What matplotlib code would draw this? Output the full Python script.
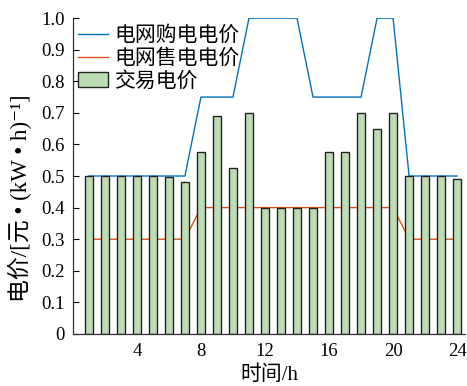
import matplotlib
matplotlib.use("Agg")
import matplotlib.pyplot as plt
import numpy as np

plt.rcParams['font.family'] = ['Liberation Serif', 'Noto Sans CJK SC', 'DejaVu Sans']

hours = list(range(1, 25))
buy_price = [0.5, 0.5, 0.5, 0.5, 0.5, 0.5, 0.5, 0.75, 0.75, 0.75, 1.0, 1.0,
             1.0, 1.0, 0.75, 0.75, 0.75, 0.75, 1.0, 1.0, 0.5, 0.5, 0.5, 0.5]
sell_price = [0.3, 0.3, 0.3, 0.3, 0.3, 0.3, 0.3, 0.4, 0.4, 0.4, 0.4, 0.4,
              0.4, 0.4, 0.4, 0.4, 0.4, 0.4, 0.4, 0.4, 0.3, 0.3, 0.3, 0.3]
trade_price = [0.5, 0.5, 0.5, 0.5, 0.5, 0.497, 0.48, 0.575, 0.69, 0.525, 0.70, 0.40,
               0.40, 0.40, 0.40, 0.575, 0.575, 0.70, 0.65, 0.70, 0.5, 0.5, 0.5, 0.49]
xticks = [4, 8, 12, 16, 20, 24]
yticks = [0, 0.1, 0.2, 0.3, 0.4, 0.5, 0.6, 0.7, 0.8, 0.9, 1.0]
ytick_labels = ['0', '0.1', '0.2', '0.3', '0.4', '0.5', '0.6', '0.7', '0.8', '0.9', '1.0']

fig = plt.figure(figsize=(4.67, 3.86), dpi=100)
ax = fig.add_axes([0.156, 0.135, 0.84, 0.818])

ax.plot(hours, buy_price, color='#0072BD', lw=1.0, label='电网购电电价', zorder=1)
ax.plot(hours, sell_price, color='#D95319', lw=1.0, label='电网售电电价', zorder=1)
ax.bar(hours, trade_price, width=0.48, color='#bcdcb4', edgecolor='#222222',
       linewidth=1.0, label='交易电价', zorder=2)

ax.set_xlim(0, 24.5)
ax.set_ylim(0, 1.0)
ax.set_xticks(xticks)
ax.set_xticklabels([str(t) for t in xticks])
ax.set_yticks(yticks)
ax.set_yticklabels(ytick_labels)
ax.tick_params(direction='in', length=4, labelsize=13.5, width=0.8)
ax.tick_params(axis='x', pad=6.5)
ax.tick_params(axis='y', pad=6)
for s in ['top', 'right']:
    ax.spines[s].set_visible(False)
for s in ['left', 'bottom']:
    ax.spines[s].set_linewidth(0.9)
    ax.spines[s].set_color('#333333')

ax.set_xlabel('时间/h', fontsize=15, labelpad=4)
ax.set_ylabel('电价/[元 • (kW • h)⁻¹]', fontsize=16.5)
ax.yaxis.set_label_coords(-0.105, 0.43)

ax.legend(loc='upper left', bbox_to_anchor=(-0.008, 1.0), frameon=False,
          fontsize=15, handlelength=1.45, handletextpad=0.3, labelspacing=0.15,
          borderaxespad=0.0)

fig.savefig('out.png', dpi=100)
